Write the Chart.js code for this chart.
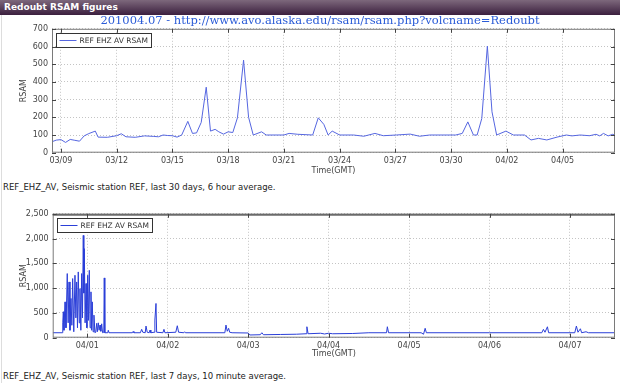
<!DOCTYPE html>
<html>
<head>
<meta charset="utf-8">
<script src="https://cdn.jsdelivr.net/npm/chart.js@4.4.1/dist/chart.umd.min.js"></script>
<style>
  body { margin: 0; width: 620px; height: 383px; background: #fff; position: relative; overflow: hidden; font-family: 'DejaVu Sans', sans-serif; }
  #hdr { position: absolute; left: 0; top: 0; width: 620px; height: 15px; background: linear-gradient(#7d687c, #3b1f3e); color: #fff; font-weight: bold; font-size: 9px; line-height: 15px; padding-left: 4px; box-sizing: border-box; }
  #ttl { position: absolute; left: 0; top: 13px; width: 640px; text-align: center; color: #2a5bd7; font-family: 'DejaVu Serif', serif; font-size: 11.5px; }
  #edge { position: absolute; left: 1px; top: 15px; width: 1px; height: 368px; background: #ddd; }
  .cap { position: absolute; left: 3px; font-size: 8.5px; color: #222; white-space: nowrap; }
  canvas { position: absolute; left: 0; }
</style>
</head>
<body>
<div id="hdr">Redoubt RSAM figures</div>
<div id="edge"></div>
<canvas id="top30" width="620" height="162" style="top:20px"></canvas>
<div id="ttl">201004.07 - http://www.avo.alaska.edu/rsam/rsam.php?volcname=Redoubt</div>
<div class="cap" style="top:182px">REF_EHZ_AV, Seismic station REF, last 30 days, 6 hour average.</div>
<canvas id="bot7" width="620" height="157" style="top:205px"></canvas>
<div class="cap" style="top:371px">REF_EHZ_AV, Seismic station REF, last 7 days, 10 minute average.</div>
<script>
// 30 day plot: x in days after 03/09 00:00 GMT
const topTickDays = [0, 3, 6, 9, 12, 15, 18, 21, 24, 27];
const topTickLabels = ['03/09', '03/12', '03/15', '03/18', '03/21', '03/24', '03/27', '03/30', '04/02', '04/05'];
const topDays = [-0.48, -0.25, 0, 0.25, 0.5, 0.75, 1.0, 1.25, 1.5, 1.85, 2.0, 2.5, 3.0, 3.25, 3.5, 4.0, 4.5, 5.0, 5.25, 5.5,
  5.75, 6.0, 6.25, 6.5, 6.83, 7.08, 7.3, 7.55, 7.82, 8.05, 8.3, 8.5, 8.75, 9.0, 9.25, 9.5, 9.83, 10.1, 10.35, 10.8,
  11.05, 12.0, 12.28, 12.75, 13.55, 13.85, 14.15, 14.38, 14.6, 15.0, 15.75, 16.3, 16.9, 17.35, 18.05, 18.8, 19.3, 19.85, 21.25, 21.6,
  21.9, 22.2, 22.4, 22.65, 22.95, 23.2, 23.45, 23.95, 24.35, 24.95, 25.3, 25.7, 26.15, 26.7, 27.2, 27.5, 27.95, 28.45, 28.8, 29.0,
  29.2, 29.45, 29.7, 29.82];
const topRsam = [62, 71, 74, 58, 75, 70, 65, 95, 108, 122, 88, 87, 96, 107, 90, 87, 95, 92, 90, 100,
  97, 96, 88, 100, 177, 109, 112, 171, 370, 122, 132, 118, 105, 118, 114, 197, 523, 200, 100, 118,
  100, 100, 109, 104, 100, 197, 160, 100, 122, 100, 100, 93, 109, 96, 100, 105, 93, 100, 100, 109,
  174, 100, 100, 193, 602, 231, 100, 122, 100, 100, 72, 81, 72, 88, 100, 95, 100, 96, 104, 95,
  109, 95, 104, 98];

// 7 day plot: x in days after 04/01 00:00 GMT
const botTickDays = [0, 1, 2, 3, 4, 5, 6];
const botTickLabels = ['04/01', '04/02', '04/03', '04/04', '04/05', '04/06', '04/07'];
const botDays = [-0.43, -0.31, -0.305, -0.298, -0.29, -0.277, -0.265, -0.249, -0.238, -0.227, -0.215, -0.203, -0.192, -0.182, -0.168, -0.153,
  -0.142, -0.132, -0.122, -0.112, -0.1, -0.091, -0.08, -0.07, -0.06, -0.05, -0.043, -0.037, -0.027, -0.016, -0.005, 0.005,
  0.015, 0.025, 0.035, 0.046, 0.054, 0.062, 0.072, 0.083, 0.095, 0.105, 0.117, 0.125, 0.137, 0.147, 0.158, 0.168,
  0.179, 0.19, 0.205, 0.211, 0.218, 0.255, 0.261, 0.27, 0.56, 0.57, 0.58, 0.66, 0.676, 0.69, 0.72, 0.73,
  0.745, 0.77, 0.78, 0.79, 0.83, 0.84, 0.854, 0.862, 0.94, 0.953, 0.965, 1.1, 1.119, 1.135, 1.2, 1.21,
  1.22, 1.71, 1.724, 1.74, 1.757, 1.77, 1.8, 2.0, 2.02, 2.15, 2.17, 2.19, 2.4, 2.6, 2.72, 2.73,
  2.745, 2.9, 2.95, 3.0, 3.05, 3.3, 3.5, 3.72, 3.73, 3.745, 4.15, 4.18, 4.2, 4.215, 5.0, 5.65,
  5.67, 5.69, 5.72, 5.735, 6.06, 6.08, 6.1, 6.13, 6.145, 6.2, 6.23, 6.56];
const botRsam = [100, 100, 300, 523, 150, 723, 200, 1294, 300, 1125, 150, 792, 250, 1193, 120, 1260,
  400, 1125, 200, 1327, 300, 990, 150, 1294, 400, 2064, 900, 1797, 300, 1093, 200, 1260,
  350, 1360, 200, 925, 150, 723, 120, 455, 100, 110, 290, 120, 300, 150, 255, 130,
  280, 100, 110, 1206, 100, 100, 150, 100, 100, 125, 100, 100, 169, 110, 100, 235,
  110, 100, 155, 100, 110, 356, 691, 110, 100, 169, 100, 110, 241, 110, 100, 120,
  100, 100, 255, 130, 189, 110, 100, 95, 55, 60, 100, 60, 65, 70, 80, 221,
  80, 90, 75, 90, 80, 85, 100, 100, 221, 100, 100, 70, 190, 100, 100, 100,
  168, 110, 220, 100, 100, 235, 110, 180, 100, 120, 100, 100];

const seriesLabel = 'REF EHZ AV RSAM';
const TICK_FONT = { family: 'DejaVu Sans', size: 8 };

// matlab-ish frame, inward ticks and the boxed legend
const framePlugin = {
  id: 'frame',
  afterDatasetsDraw(chart, args, o) {
    const { ctx, chartArea: a, scales: { x, y } } = chart;
    ctx.save();
    ctx.strokeStyle = '#7a7a7a';
    ctx.lineWidth = 1;
    ctx.strokeRect(a.left + 0.5, a.top + 0.5, a.right - a.left - 1, a.bottom - a.top - 1);
    if (o.heavyTop) {
      ctx.strokeStyle = '#6a6a6a';
      ctx.lineWidth = 2;
      ctx.beginPath(); ctx.moveTo(a.left, a.top + 1); ctx.lineTo(a.right, a.top + 1); ctx.stroke();
    }
    ctx.strokeStyle = '#444';
    ctx.lineWidth = 1;
    ctx.beginPath();
    x.ticks.forEach(t => {
      const px = Math.round(x.getPixelForValue(t.value)) + 0.5;
      ctx.moveTo(px, a.top); ctx.lineTo(px, a.top + 4);
      ctx.moveTo(px, a.bottom); ctx.lineTo(px, a.bottom - 4);
    });
    y.ticks.forEach(t => {
      const py = Math.round(y.getPixelForValue(t.value)) + 0.5;
      ctx.moveTo(a.left, py); ctx.lineTo(a.left + 4, py);
      ctx.moveTo(a.right, py); ctx.lineTo(a.right - 4, py);
    });
    ctx.stroke();

    // legend box
    const ds = chart.data.datasets[0];
    ctx.font = '7.5px "DejaVu Sans"';
    const tw = ctx.measureText(ds.label).width;
    const bx = Math.round(a.left + 4) + 0.5, by = Math.round(a.top + 4) + 0.5;
    const bw = Math.round(tw + 27), bh = 14;
    ctx.fillStyle = '#fff';
    ctx.fillRect(bx, by, bw, bh);
    ctx.strokeStyle = '#333';
    ctx.strokeRect(bx, by, bw, bh);
    ctx.strokeStyle = ds.borderColor;
    ctx.beginPath(); ctx.moveTo(bx + 3, by + 7); ctx.lineTo(bx + 20, by + 7); ctx.stroke();
    ctx.fillStyle = '#333';
    ctx.textBaseline = 'middle';
    ctx.fillText(ds.label, bx + 23, by + 7.5);
    ctx.restore();
  }
};

function makePlot(id, days, vals, cfg) {
  return new Chart(document.getElementById(id), {
    type: 'line',
    data: {
      datasets: [{
        label: seriesLabel,
        data: days.map((d, i) => ({ x: d, y: vals[i] })),
        borderColor: cfg.color, borderWidth: 1,
        pointRadius: 0, tension: 0, fill: false
      }]
    },
    options: {
      responsive: false, animation: false,
      layout: { padding: { top: cfg.padTop, right: 5, left: 0, bottom: 0 } },
      plugins: { legend: { display: false }, tooltip: { enabled: false }, frame: { heavyTop: cfg.heavyTop } },
      scales: {
        x: {
          type: 'linear', min: cfg.xMin, max: cfg.xMax,
          afterBuildTicks: s => { s.ticks = cfg.tickDays.map(v => ({ value: v })); },
          afterFit: s => { s.height = cfg.xHeight; },
          grid: { color: '#c4c4c4', drawTicks: false },
          border: { display: false, dash: [1, 2] },
          ticks: {
            color: '#444', font: TICK_FONT, padding: 3, maxRotation: 0,
            callback: v => cfg.tickLabels[cfg.tickDays.indexOf(v)]
          },
          title: { display: true, text: 'Time(GMT)', color: '#444', font: TICK_FONT, padding: { top: 0, bottom: cfg.titlePad } }
        },
        y: {
          min: 0, max: cfg.yMax,
          afterFit: s => { s.width = cfg.yWidth; },
          grid: { color: '#c4c4c4', drawTicks: false },
          border: { display: false, dash: [1, 2] },
          ticks: { stepSize: cfg.yStep, color: '#444', font: TICK_FONT, padding: 4, callback: v => v.toLocaleString('en-US') },
          title: { display: true, text: 'RSAM', color: '#444', font: TICK_FONT, padding: { top: 19.5, bottom: 0 } }
        }
      }
    },
    plugins: [framePlugin]
  });
}

makePlot('top30', topDays, topRsam, {
  color: '#5566e0', padTop: 8.5, xMin: -0.48, xMax: 29.82, tickDays: topTickDays, tickLabels: topTickLabels,
  xHeight: 29.3, titlePad: 6.5, yMax: 700, yStep: 100, yWidth: 52, heavyTop: false
});
makePlot('bot7', botDays, botRsam, {
  color: '#2b3fd8', padTop: 8.3, xMin: -0.43, xMax: 6.56, tickDays: botTickDays, tickLabels: botTickLabels,
  xHeight: 24.3, titlePad: 3.2, yMax: 2500, yStep: 500, yWidth: 52.7, heavyTop: true
});
</script>
</body>
</html>
